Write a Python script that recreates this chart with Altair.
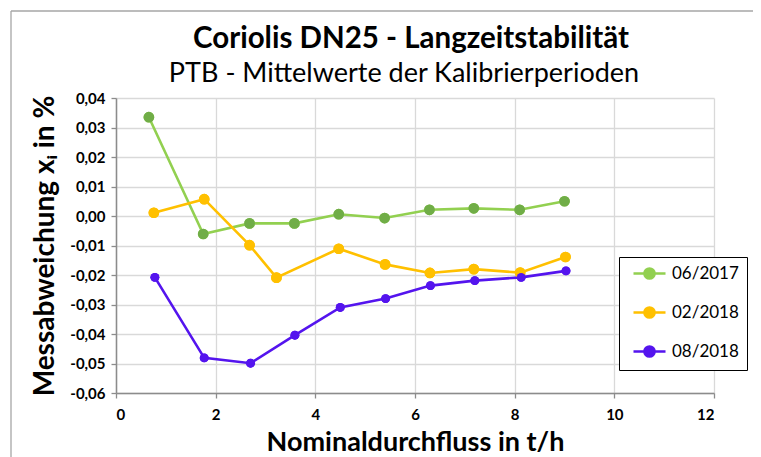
import altair as alt
import pandas as pd

# ---- data ----
series = ["06/2017", "02/2018", "08/2018"]
x_06 = [0.66, 1.75, 2.68, 3.58, 4.47, 5.39, 6.29, 7.18, 8.10, 9.00]
y_06 = [0.0335, -0.0061, -0.0025, -0.0025, 0.0006, -0.0007, 0.0021, 0.0026, 0.0021, 0.0050]
x_02 = [0.76, 1.77, 2.68, 3.22, 4.47, 5.40, 6.30, 7.18, 8.11, 9.02]
y_02 = [0.0011, 0.0057, -0.0099, -0.0209, -0.0111, -0.0164, -0.0193, -0.0180, -0.0192, -0.0139]
x_08 = [0.78, 1.77, 2.70, 3.59, 4.50, 5.41, 6.31, 7.20, 8.13, 9.03]
y_08 = [-0.0208, -0.0481, -0.0499, -0.0404, -0.0310, -0.0280, -0.0236, -0.0219, -0.0208, -0.0186]

x_ticks = [0, 2, 4, 6, 8, 10, 12]
y_ticks = [-0.06, -0.05, -0.04, -0.03, -0.02, -0.01, 0.0, 0.01, 0.02, 0.03, 0.04]

title_text = "Coriolis DN25 - Langzeitstabilität"
subtitle_text = "PTB - Mittelwerte der Kalibrierperioden"

line_colors = ["#92D050", "#FFC000", "#5414EE"]
marker_colors = {"06/2017": "#70AD47", "02/2018": "#FFC000", "08/2018": "#5414EE"}
marker_sizes = {"06/2017": 115, "02/2018": 115, "08/2018": 80}

rows = []
for name, xs, ys in [("06/2017", x_06, y_06), ("02/2018", x_02, y_02), ("08/2018", x_08, y_08)]:
    for i, (xv, yv) in enumerate(zip(xs, ys)):
        rows.append({"serie": name, "order": i, "x": xv, "y": yv,
                     "mcolor": marker_colors[name], "msize": marker_sizes[name]})
df = pd.DataFrame(rows)

FONT = "Lato"
GRID = "#D9D9D9"
AX = "#8C8C8C"

x_enc = alt.X("x:Q", scale=alt.Scale(domain=[0, 12], nice=False, zero=False),
              axis=alt.Axis(values=x_ticks, title="Nominaldurchfluss in t/h",
                            labelExpr="datum.value"))
y_enc = alt.Y("y:Q", scale=alt.Scale(domain=[-0.06, 0.04], nice=False, zero=False),
              axis=alt.Axis(values=y_ticks, title="Messabweichung xᵢ in %",
                            labelExpr="replace(replace(format(datum.value, '.2f'), '.', ','), '\u2212', '-')"))

legend_symbol = "M-2.5,0H2.5M0.8,0A0.8,0.8 0 1,1 -0.8,0A0.8,0.8 0 1,1 0.8,0Z"

color_enc = alt.Color("serie:N",
                      scale=alt.Scale(domain=series, range=line_colors),
                      legend=alt.Legend(title=None, orient="none", legendX=503, legendY=159,
                                        symbolType=legend_symbol, symbolSize=164,
                                        symbolStrokeWidth=2.5, symbolOffset=14,
                                        labelOffset=14, labelFont=FONT, labelFontSize=17,
                                        labelColor="black", rowPadding=18,
                                        strokeColor="black", fillColor="white",
                                        padding=8))

base = alt.Chart(df)

lines = base.mark_line(strokeWidth=2.6).encode(
    x=x_enc, y=y_enc, color=color_enc, order="order:Q")
pts_legend = base.mark_point(filled=True, opacity=1).encode(
    x=x_enc, y=y_enc, color=color_enc, size=alt.Size("msize:Q", scale=None))
pts = base.mark_point(filled=True, opacity=1).encode(
    x=x_enc, y=y_enc, fill=alt.Fill("mcolor:N", scale=None),
    size=alt.Size("msize:Q", scale=None))

one = pd.DataFrame({"title": [title_text], "subtitle": [subtitle_text]})
frame_h = alt.Chart(one).mark_rule(color="#A6A6A6", strokeWidth=1.3).encode(
    x=alt.value(-105), x2=alt.value(700), y=alt.value(-87))
frame_v = alt.Chart(one).mark_rule(color="#A6A6A6", strokeWidth=1.3).encode(
    x=alt.value(-105), y=alt.value(-87), y2=alt.value(400))
title_mark = alt.Chart(one).mark_text(font=FONT, fontSize=29.5, fontWeight="bold",
                                      color="black", align="center", baseline="middle").encode(
    text="title:N", x=alt.value(295), y=alt.value(-59))
subtitle_mark = alt.Chart(one).mark_text(font=FONT, fontSize=27, color="black",
                                         align="center", baseline="middle").encode(
    text="subtitle:N", x=alt.value(288), y=alt.value(-24))

chart = alt.layer(frame_h, frame_v, title_mark, subtitle_mark, lines, pts_legend, pts).properties(
    width=598, height=295,
    autosize=alt.AutoSizeParams(type="none"),
    padding={"left": 108, "top": 90, "right": 39, "bottom": 66},
).configure_view(stroke=None).configure_axis(
    grid=True, gridColor=GRID, gridWidth=1.3,
    domainColor=AX, domainWidth=1.5, tickColor=AX, tickSize=5, tickWidth=1.3,
    labelFont=FONT, labelFontWeight="bold", labelFontSize=15, labelColor="black",
    titleFont=FONT, titleFontWeight="bold", titleFontSize=28, titleColor="black",
).configure_axisX(labelPadding=9, titlePadding=7, titleFontSize=27).configure_axisY(
    labelPadding=6, titlePadding=10)

chart.save("out.html", embed_options={"renderer": "svg", "actions": False})
